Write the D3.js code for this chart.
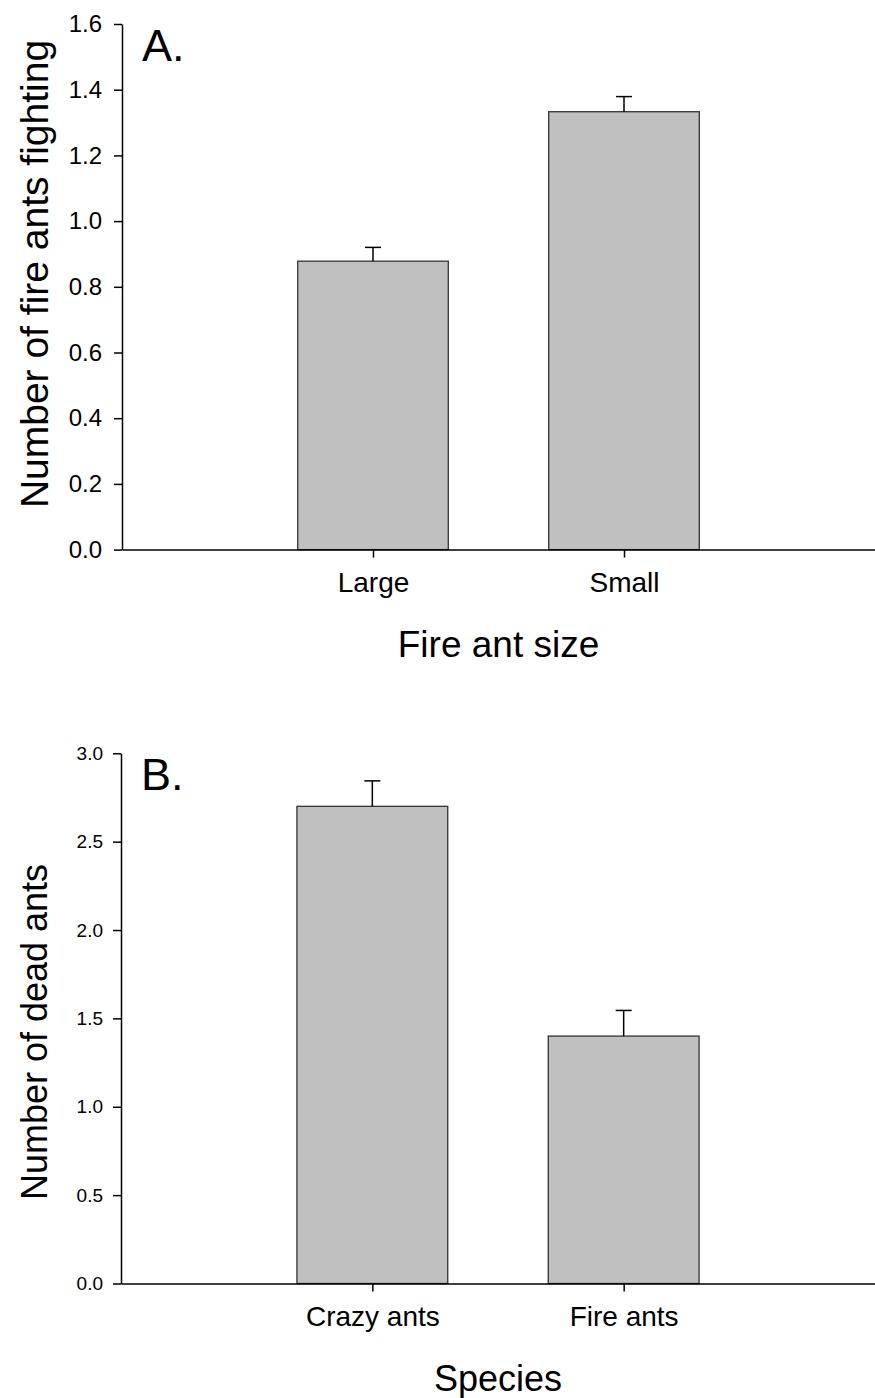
<!DOCTYPE html>
<html>
<head>
<meta charset="utf-8">
<script src="https://cdn.jsdelivr.net/npm/d3@7"></script>
<style>
  body { margin: 0; background: #fff; }
  svg { display: block; }
  text { font-family: "Liberation Sans", Arial, sans-serif; fill: #000; }
</style>
</head>
<body>
<svg id="chart" width="875" height="1398"></svg>
<script>
// panel A: fire ants fighting by size
const sizeCats = ['Large', 'Small'];
const fightMeans = [0.878, 1.333];
const fightSE = [0.042, 0.046];
const fightTicks = [0, 0.2, 0.4, 0.6, 0.8, 1.0, 1.2, 1.4, 1.6];

// panel B: dead ants by species
const speciesCats = ['Crazy ants', 'Fire ants'];
const deadMeans = [2.70, 1.40];
const deadSE = [0.144, 0.145];
const deadTicks = [0, 0.5, 1.0, 1.5, 2.0, 2.5, 3.0];

const svg = d3.select('#chart');

function drawPanel(opts) {
  const g = svg.append('g');
  const x = d3.scalePoint().domain(opts.cats).range([opts.left, 875]).padding(1);
  const y = d3.scaleLinear().domain([0, d3.max(opts.ticks)]).range([opts.bottom, opts.top]);
  const barW = x.step() * 0.6;

  const rows = opts.cats.map((c, i) => ({ cat: c, mean: opts.means[i], se: opts.se[i] }));

  // bars
  g.selectAll('rect.bar')
    .data(rows)
    .enter()
    .append('rect')
    .attr('class', 'bar')
    .attr('x', (d) => x(d.cat) - barW / 2)
    .attr('width', barW)
    .attr('y', (d) => y(d.mean))
    .attr('height', (d) => y(0) - y(d.mean))
    .attr('fill', '#c0c0c0')
    .attr('stroke', '#333')
    .attr('stroke-width', 1.3);

  // upper error bars
  g.selectAll('line.err')
    .data(rows)
    .enter()
    .append('line')
    .attr('x1', (d) => x(d.cat))
    .attr('x2', (d) => x(d.cat))
    .attr('y1', (d) => y(d.mean))
    .attr('y2', (d) => y(d.mean + d.se))
    .attr('stroke', '#000')
    .attr('stroke-width', 1.5);
  g.selectAll('line.cap')
    .data(rows)
    .enter()
    .append('line')
    .attr('x1', (d) => x(d.cat) - 8)
    .attr('x2', (d) => x(d.cat) + 8)
    .attr('y1', (d) => y(d.mean + d.se))
    .attr('y2', (d) => y(d.mean + d.se))
    .attr('stroke', '#000')
    .attr('stroke-width', 1.5);

  // y axis
  const yAxis = g.append('g')
    .attr('transform', `translate(${opts.left},0)`)
    .call(d3.axisLeft(y).tickValues(opts.ticks).tickFormat(d3.format('.1f'))
      .tickSize(8).tickSizeOuter(0).tickPadding(opts.tickPad));
  yAxis.selectAll('path, line').attr('stroke', '#000').attr('stroke-width', 1.5);
  yAxis.selectAll('text').style('font-size', opts.tickFont + 'px')
    .style('font-family', '"Liberation Sans", Arial, sans-serif');

  // x axis
  const xAxis = g.append('g')
    .attr('transform', `translate(0,${opts.bottom})`)
    .call(d3.axisBottom(x).tickSize(8).tickSizeOuter(0).tickPadding(15));
  xAxis.selectAll('path, line').attr('stroke', '#000').attr('stroke-width', 1.5);
  xAxis.selectAll('text').style('font-size', '28px')
    .style('font-family', '"Liberation Sans", Arial, sans-serif');

  // titles
  g.append('text')
    .attr('x', (opts.left + 875) / 2)
    .attr('y', opts.bottom + 107)
    .attr('text-anchor', 'middle')
    .style('font-size', opts.xTitleFont + 'px')
    .text(opts.xTitle);

  g.append('text')
    .attr('transform', `translate(${opts.yTitleX},${opts.yTitleY}) rotate(-90)`)
    .attr('text-anchor', 'middle')
    .style('font-size', opts.yTitleFont + 'px')
    .text(opts.yTitle);

  g.append('text')
    .attr('x', opts.left + 20)
    .attr('y', opts.top + 37)
    .style('font-size', '45px')
    .text(opts.letter);
}

drawPanel({
  cats: sizeCats, means: fightMeans, se: fightSE, ticks: fightTicks,
  left: 122, top: 24, bottom: 549.6, tickFont: 24, tickPad: 12,
  xTitle: 'Fire ant size', xTitleFont: 37,
  yTitle: 'Number of fire ants fighting', yTitleFont: 39,
  yTitleX: 48, yTitleY: 274, letter: 'A.'
});

drawPanel({
  cats: speciesCats, means: deadMeans, se: deadSE, ticks: deadTicks,
  left: 121, top: 753.3, bottom: 1283.5, tickFont: 19, tickPad: 10,
  xTitle: 'Species', xTitleFont: 36,
  yTitle: 'Number of dead ants', yTitleFont: 36,
  yTitleX: 47, yTitleY: 1032, letter: 'B.'
});
</script>
</body>
</html>
